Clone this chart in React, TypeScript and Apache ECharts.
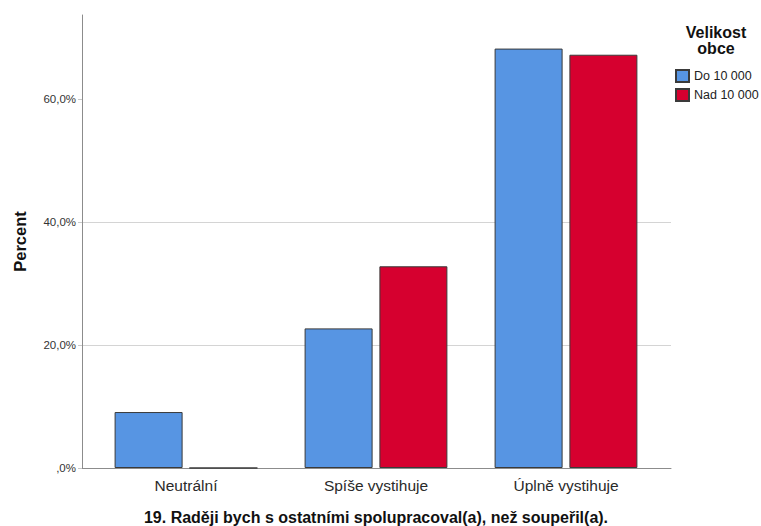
import React, { useEffect, useRef } from "react";
import * as echarts from "echarts";

const categories = ["Neutrální", "Spíše vystihuje", "Úplně vystihuje"];
const seriesNames = ["Do 10 000", "Nad 10 000"];
const smallTown = [9.1, 22.7, 68.2];
const bigTown = [0, 32.8, 67.2];
const yTicks = [0, 20, 40, 60];
const colors = ["#5795e3", "#d6002f"];
const xTitle = "19. Raději bych s ostatními spolupracoval(a), než soupeřil(a).";
const yTitle = "Percent";
const legendTitle = ["Velikost", "obce"];

const FONT = "'Liberation Sans', Arial, sans-serif";
const Y_MAX = 73.66;

function fmt(v: number) {
  if (v === 0) return ",0%";
  return v.toFixed(1).replace(".", ",") + "%";
}

export default function App() {
  const ref = useRef<HTMLDivElement>(null);
  useEffect(() => {
    if (!ref.current) return;
    const chart = echarts.init(ref.current, null, { renderer: "svg" });
    chart.setOption({
      animation: false,
      backgroundColor: "#ffffff",
      textStyle: { fontFamily: FONT },
      grid: [
        { left: 82, top: 15, width: 589, height: 453, outerBoundsMode: "none", containLabel: false },
        { left: 91, top: 15, width: 570, height: 453, outerBoundsMode: "none", containLabel: false },
      ],
      xAxis: [
        {
          type: "value",
          gridIndex: 0,
          min: 0,
          max: 1,
          axisLine: { show: true, lineStyle: { color: "#8c8c8c", width: 1 } },
          axisTick: { show: false },
          axisLabel: { show: false },
          splitLine: { show: false },
        },
        {
          type: "category",
          gridIndex: 1,
          data: categories,
          axisLine: { show: false },
          axisTick: { show: false },
          axisLabel: { fontSize: 15.5, color: "#2a2a2a", margin: 9, fontFamily: FONT },
          name: xTitle,
          nameLocation: "middle",
          nameGap: 41,
          nameTextStyle: { fontSize: 16, fontWeight: "bold", color: "#111", fontFamily: FONT },
        },
      ],
      yAxis: [
        {
          type: "value",
          gridIndex: 0,
          min: 0,
          max: Y_MAX,
          interval: 20,
          axisLine: { show: true, lineStyle: { color: "#8c8c8c", width: 1 } },
          axisTick: {
            show: true,
            length: 4,
            customValues: yTicks,
            lineStyle: { color: "#c8c8c8" },
          },
          axisLabel: {
            customValues: yTicks,
            formatter: (v: number) => fmt(v),
            fontSize: 11.5,
            color: "#333",
            margin: 6,
            fontFamily: FONT,
          },
          splitLine: {
            show: true,
            showMinLine: false,
            showMaxLine: false,
            lineStyle: { color: "#d4d4d4", width: 1 },
          },
          name: yTitle,
          nameLocation: "middle",
          nameGap: 54,
          nameTextStyle: { fontSize: 16.5, fontWeight: "bold", color: "#111", fontFamily: FONT },
        },
        {
          type: "value",
          gridIndex: 1,
          min: 0,
          max: Y_MAX,
          show: false,
          splitLine: { show: false },
        },
      ],
      legend: {
        orient: "vertical",
        left: 675,
        top: 69,
        padding: 0,
        itemWidth: 13,
        itemHeight: 12,
        itemGap: 5,
        icon: "rect",
        textStyle: { fontSize: 12.5, color: "#222", fontFamily: FONT },
        data: seriesNames,
      },
      graphic: [
        {
          type: "text",
          x: 716,
          y: 24,
          style: {
            text: legendTitle.join("\n"),
            align: "center",
            verticalAlign: "top",
            fontSize: 16,
            lineHeight: 16,
            fontWeight: "bold",
            fill: "#111",
            fontFamily: FONT,
          },
        },
      ],
      series: [
        {
          name: seriesNames[0],
          type: "bar",
          xAxisIndex: 1,
          yAxisIndex: 1,
          data: smallTown,
          barWidth: 68,
          barGap: "10%",
          itemStyle: { color: colors[0], borderColor: "#3a3a3a", borderWidth: 1 },
        },
        {
          name: seriesNames[1],
          type: "bar",
          xAxisIndex: 1,
          yAxisIndex: 1,
          data: bigTown,
          barWidth: 68,
          barGap: "10%",
          itemStyle: { color: colors[1], borderColor: "#3a3a3a", borderWidth: 1 },
        },
      ],
    });
    return () => chart.dispose();
  }, []);
  return (
    <div
      ref={ref}
      style={{ position: "fixed", left: 0, top: 0, width: 761, height: 526, background: "#fff" }}
    />
  );
}
